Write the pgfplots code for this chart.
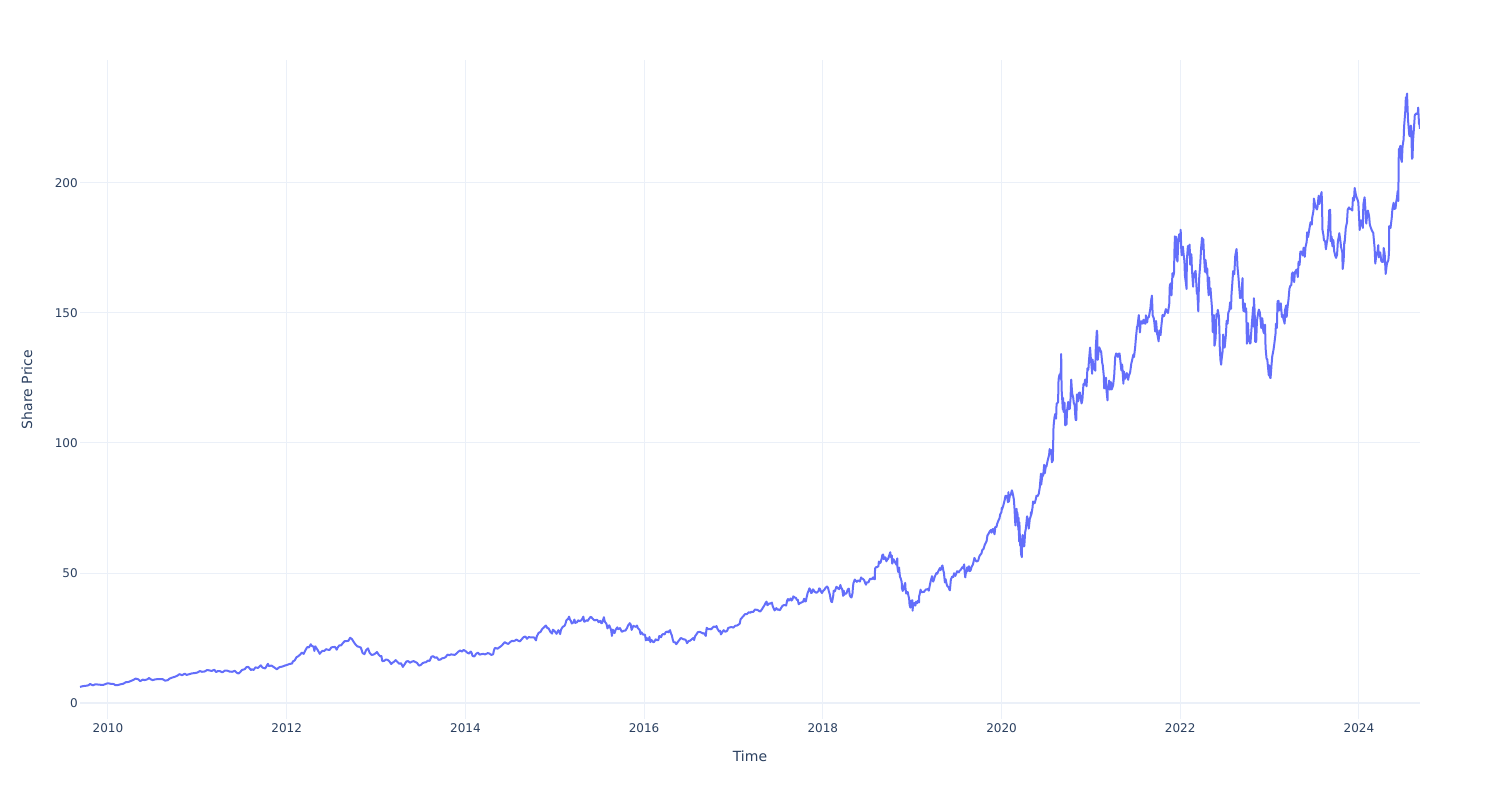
\documentclass[border=0pt]{standalone}
\usepackage{fontspec}
\setmainfont{DejaVu Sans}
\usepackage{pgfplots}
\pgfplotsset{compat=1.18}

\definecolor{lineblue}{HTML}{636EFA}
\definecolor{gridc}{HTML}{EBF0F8}
\definecolor{txt}{HTML}{2A3F5F}

\begin{document}
\begin{tikzpicture}
% page size: 1500x800 px at 0.75pt per px
\path[use as bounding box] (-60pt,-60.75pt) rectangle (1065pt,539.25pt);
\begin{axis}[
  at={(0,0)}, anchor=south west,
  scale only axis, width=1005pt, height=494.25pt,
  % x = years since 2000
  xmin=9.687, xmax=24.683,
  ymin=-6.15, ymax=247.3,
  axis line style={draw=none},
  major tick length=0pt,
  xtick={10,12,...,24},
  xticklabels={2010,2012,2014,2016,2018,2020,2022,2024},
  ytick={50,100,150,200},
  yticklabels={50,100,150,200},
  extra y ticks={0}, extra y tick labels={0},
  extra y tick style={grid=major, major grid style={draw=gridc, line width=1.5pt}},
  grid=major,
  major grid style={draw=gridc, line width=0.75pt},
  tick label style={font=\fontsize{9}{9}\selectfont, text=txt},
  xticklabel style={anchor=center, yshift=-6.75pt},
  yticklabel style={anchor=east, inner sep=0pt, xshift=-1.5pt},
  every axis x label/.style={at={(axis description cs:0.5,-0.0561)}, anchor=center,
    font=\fontsize{10.5}{10.5}\selectfont, text=txt},
  every axis y label/.style={at={(axis description cs:-0.0396,0.5)}, anchor=center,
    rotate=90, font=\fontsize{10.5}{10.5}\selectfont, text=txt},
  xlabel={Time},
  ylabel={Share Price},
]
\addplot[color=lineblue, line width=1.5pt, line join=round, no markers] coordinates {
(9.687,6.2) (9.72,6.5) (9.75,6.6) (9.78,6.8) (9.80,7.3) (9.83,6.8) (9.86,7.2) (9.89,7.1) (9.92,7.0) (9.95,7.0) (9.98,7.4)
(10.00,7.6) (10.03,7.4) (10.05,7.4) (10.07,7.2) (10.08,6.9) (10.11,6.9) (10.14,7.2) (10.17,7.4) (10.20,8.0) (10.23,8.1) (10.25,8.4) (10.28,8.8) (10.31,9.4) (10.34,9.1) (10.36,8.4) (10.39,9.0) (10.41,8.8) (10.44,9.1) (10.46,9.6) (10.48,9.1) (10.50,8.8) (10.53,9.1) (10.56,9.2) (10.58,9.2) (10.61,9.2) (10.64,8.6) (10.67,8.8) (10.69,9.4) (10.72,9.8) (10.75,10.1) (10.78,10.6) (10.80,11.1) (10.83,10.7) (10.86,11.3) (10.88,10.8) (10.91,11.1) (10.94,11.4) (10.97,11.5)
(11.00,11.7) (11.03,12.3) (11.05,12.0) (11.08,12.1) (11.11,12.7) (11.14,12.5) (11.16,12.3) (11.19,12.8) (11.21,11.9) (11.23,12.3) (11.25,12.3) (11.28,11.8) (11.31,12.5) (11.34,12.4) (11.36,12.1) (11.39,12.0) (11.42,12.4) (11.44,11.7) (11.46,11.3) (11.48,11.9) (11.50,12.7) (11.53,13.0) (11.55,13.8) (11.57,13.9) (11.60,12.7) (11.61,13.0) (11.63,12.7) (11.65,13.7) (11.68,13.5) (11.71,14.5) (11.73,13.6) (11.76,13.3) (11.79,15.1) (11.80,14.2) (11.83,14.4) (11.86,13.7) (11.89,13.0) (11.92,13.8) (11.95,14.0) (11.98,14.4)
(12.00,14.6) (12.03,15.0) (12.06,15.2) (12.07,16.0) (12.09,16.4) (12.11,17.6) (12.13,18.0) (12.15,18.6) (12.17,19.4) (12.19,18.9) (12.21,20.3) (12.23,21.5) (12.25,21.4) (12.27,22.6) (12.28,22.0) (12.30,21.7) (12.31,20.0) (12.32,21.8) (12.35,20.2) (12.37,18.9) (12.38,19.4) (12.40,20.1) (12.42,20.0) (12.44,20.7) (12.46,20.5) (12.48,20.4) (12.50,21.4) (12.52,21.5) (12.54,21.6) (12.56,20.5) (12.57,21.3) (12.59,22.2) (12.61,22.2) (12.63,23.1) (12.65,23.8) (12.67,23.8) (12.69,23.9) (12.71,25.1) (12.73,24.6) (12.75,23.5) (12.77,22.5) (12.79,21.8) (12.81,21.6) (12.83,21.3) (12.85,19.2) (12.87,18.8) (12.89,20.4) (12.91,21.0) (12.93,19.2) (12.95,18.5) (12.97,18.6) (12.99,19.0)
(13.01,19.6) (13.03,18.6) (13.05,17.9) (13.06,18.1) (13.07,16.1) (13.09,16.2) (13.11,16.7) (13.13,16.6) (13.15,16.0) (13.17,15.0) (13.18,15.4) (13.20,15.8) (13.22,16.5) (13.24,15.8) (13.26,15.1) (13.28,15.3) (13.30,13.9) (13.32,14.9) (13.34,16.0) (13.36,16.1) (13.38,15.5) (13.40,15.9) (13.42,16.1) (13.44,15.8) (13.46,15.4) (13.48,14.4) (13.50,14.6) (13.52,15.3) (13.54,15.6) (13.56,15.7) (13.58,16.3) (13.60,16.2) (13.62,17.8) (13.64,18.0) (13.66,17.4) (13.68,17.6) (13.70,16.6) (13.72,16.7) (13.74,17.2) (13.76,17.3) (13.78,17.7) (13.80,18.6) (13.82,18.4) (13.84,18.7) (13.86,18.6) (13.88,18.5) (13.90,19.0) (13.92,19.7) (13.94,20.2) (13.96,19.8) (13.98,20.4)
(14.00,20.0) (14.02,19.4) (14.04,19.0) (14.06,19.8) (14.07,19.3) (14.08,18.1) (14.10,17.9) (14.12,18.9) (14.14,19.4) (14.16,18.6) (14.18,18.8) (14.20,18.9) (14.22,18.7) (14.24,19.0) (14.25,19.2) (14.27,19.0) (14.29,18.5) (14.31,18.7) (14.32,20.3) (14.33,21.2) (14.36,20.9) (14.38,21.4) (14.40,21.9) (14.42,22.6) (14.44,23.4) (14.46,23.0) (14.48,22.7) (14.50,23.4) (14.52,23.9) (14.54,23.8) (14.56,24.1) (14.57,24.4) (14.59,24.0) (14.61,23.7) (14.63,24.5) (14.65,25.3) (14.67,25.6) (14.69,24.7) (14.71,25.4) (14.73,25.2) (14.75,25.2) (14.77,25.2) (14.79,24.1) (14.80,25.7) (14.82,27.0) (14.84,27.3) (14.86,28.5) (14.88,29.1) (14.90,29.8) (14.92,28.7) (14.93,28.8) (14.95,27.4) (14.97,26.7) (14.98,28.2)
(15.00,27.6) (15.02,26.6) (15.04,28.0) (15.05,27.5) (15.06,26.5) (15.07,28.1) (15.08,28.8) (15.09,29.3) (15.11,29.7) (15.12,30.5) (15.13,31.8) (15.15,32.4) (15.16,33.2) (15.17,32.1) (15.18,31.6) (15.19,30.6) (15.21,31.0) (15.22,32.1) (15.23,30.8) (15.25,31.1) (15.26,31.8) (15.28,31.5) (15.30,31.9) (15.32,33.2) (15.33,31.3) (15.34,31.4) (15.36,31.9) (15.37,31.6) (15.38,32.2) (15.40,33.1) (15.41,33.0) (15.42,32.6) (15.44,31.9) (15.45,31.8) (15.47,32.0) (15.48,31.8) (15.49,31.1) (15.51,31.6) (15.52,30.7) (15.53,30.8) (15.55,33.0) (15.56,31.3) (15.57,30.9) (15.58,30.3) (15.59,28.7) (15.61,29.9) (15.62,29.0) (15.63,28.2) (15.64,25.8) (15.65,28.2) (15.67,26.9) (15.68,28.1) (15.70,29.1) (15.71,28.4) (15.73,28.8) (15.74,28.1) (15.75,27.4) (15.77,27.7) (15.78,27.9) (15.79,27.8) (15.81,28.9) (15.82,29.8) (15.84,30.7) (15.85,30.2) (15.86,28.1) (15.88,29.7) (15.89,29.5) (15.91,29.3) (15.92,29.8) (15.93,28.8) (15.95,28.1) (15.96,26.5) (15.97,27.2) (15.99,26.3)
(16.01,26.3) (16.02,24.1) (16.03,25.0) (16.04,24.3) (16.05,24.2) (16.06,25.4) (16.07,23.4) (16.08,24.3) (16.10,23.5) (16.11,23.4) (16.13,24.5) (16.14,24.2) (16.16,24.2) (16.17,25.8) (16.19,25.3) (16.20,26.2) (16.21,26.5) (16.23,26.4) (16.24,27.2) (16.26,27.5) (16.27,27.2) (16.29,28.0) (16.30,26.8) (16.31,26.1) (16.32,24.5) (16.33,23.4) (16.35,23.3) (16.36,22.6) (16.38,23.6) (16.40,24.5) (16.41,25.0) (16.43,24.7) (16.44,24.5) (16.46,24.4) (16.47,24.0) (16.48,23.0) (16.50,23.9) (16.51,23.9) (16.53,24.4) (16.55,25.0) (16.56,24.2) (16.57,25.7) (16.58,26.1) (16.60,27.2) (16.62,27.4) (16.64,27.1) (16.66,26.7) (16.67,26.9) (16.69,25.8) (16.70,28.9) (16.72,28.4) (16.74,28.5) (16.75,28.3) (16.77,29.1) (16.78,29.4) (16.80,29.2) (16.81,29.6) (16.82,28.6) (16.84,27.5) (16.85,27.8) (16.86,26.4) (16.88,27.5) (16.89,28.0) (16.91,27.4) (16.93,27.8) (16.94,28.8) (16.96,29.1) (16.98,29.2)
(17.00,29.0) (17.02,29.7) (17.04,29.8) (17.05,30.0) (17.07,30.5) (17.08,32.2) (17.10,33.0) (17.12,33.8) (17.13,34.2) (17.15,34.2) (17.17,34.9) (17.19,34.7) (17.20,35.1) (17.22,35.0) (17.24,35.9) (17.25,35.9) (17.27,35.8) (17.29,35.3) (17.30,35.2) (17.32,36.1) (17.33,36.7) (17.34,37.2) (17.36,38.5) (17.37,39.0) (17.38,37.6) (17.40,38.3) (17.41,38.2) (17.43,38.6) (17.44,37.2) (17.45,36.4) (17.46,35.6) (17.48,36.5) (17.49,35.9) (17.50,36.0) (17.52,35.7) (17.53,36.4) (17.55,37.4) (17.56,37.6) (17.58,37.6) (17.59,37.5) (17.60,39.3) (17.61,40.0) (17.62,39.4) (17.64,40.2) (17.65,39.4) (17.66,39.8) (17.67,41.0) (17.69,40.5) (17.70,40.4) (17.71,39.6) (17.72,39.7) (17.73,38.0) (17.74,38.3) (17.75,38.5) (17.77,38.8) (17.78,39.0) (17.79,40.1) (17.80,39.1) (17.81,39.1) (17.82,40.8) (17.83,42.3) (17.84,43.1) (17.85,44.1) (17.86,43.5) (17.87,42.3) (17.88,42.5) (17.89,43.7) (17.90,43.3) (17.91,42.8) (17.92,42.5) (17.93,42.4) (17.95,43.0) (17.96,44.1) (17.97,43.8) (17.98,42.8) (17.99,42.3)
(18.003,43.1) (18.019,43.6) (18.030,44.3) (18.047,44.8) (18.058,44.3) (18.068,42.9) (18.079,41.7) (18.086,40.1) (18.094,39.1) (18.103,38.8) (18.116,41.1) (18.122,43.2) (18.135,43.0) (18.152,44.7) (18.155,44.6) (18.169,44.1) (18.183,43.8) (18.197,45.4) (18.202,44.6) (18.216,43.8) (18.224,42.2) (18.227,41.2) (18.235,43.2) (18.241,41.6) (18.244,41.9) (18.255,42.1) (18.264,42.1) (18.280,43.7) (18.291,44.0) (18.302,41.4) (18.313,40.7) (18.321,40.6) (18.333,42.3) (18.336,44.1) (18.342,46.0) (18.358,47.5) (18.369,47.0) (18.380,46.6) (18.394,47.1) (18.410,47.0) (18.415,46.7) (18.428,48.3) (18.436,47.9) (18.450,47.7) (18.463,47.2) (18.474,46.2) (18.483,45.5) (18.491,46.4) (18.511,46.4) (18.525,47.6) (18.533,47.8) (18.547,47.6) (18.563,48.3) (18.571,47.7) (18.582,47.6) (18.583,50.4) (18.586,51.8) (18.597,52.3) (18.605,52.2) (18.622,52.6) (18.627,54.4) (18.638,53.8) (18.646,54.0) (18.660,55.7) (18.666,56.9) (18.675,57.1) (18.683,55.3) (18.694,56.0) (18.702,56.0) (18.711,54.5) (18.719,55.0) (18.733,55.6) (18.738,56.3) (18.755,58.0) (18.761,56.1) (18.772,56.7) (18.775,54.1) (18.777,53.6) (18.791,55.3) (18.799,54.8) (18.813,53.8) (18.827,53.1) (18.830,54.7) (18.833,55.6) (18.836,51.9) (18.844,50.4) (18.853,52.1) (18.863,48.6) (18.872,47.9) (18.883,46.5) (18.885,44.2) (18.894,43.1) (18.902,43.7) (18.910,44.9) (18.922,46.2) (18.925,44.2) (18.933,42.1) (18.941,42.4) (18.950,42.7) (18.960,41.0) (18.966,40.2) (18.971,37.7) (18.980,36.7) (18.985,39.3) (18.999,39.4)
(19.003,39.5) (19.005,35.5) (19.008,37.1) (19.019,37.7) (19.025,38.5) (19.036,37.5) (19.044,39.0) (19.058,38.4) (19.066,39.4) (19.077,38.7) (19.079,41.3) (19.083,41.6) (19.094,43.6) (19.103,42.6) (19.119,42.7) (19.133,42.7) (19.141,43.2) (19.155,43.7) (19.167,43.7) (19.178,43.9) (19.186,43.2) (19.197,45.2) (19.205,46.5) (19.222,48.8) (19.224,47.8) (19.235,46.7) (19.244,47.5) (19.255,48.8) (19.272,50.0) (19.280,49.7) (19.294,50.8) (19.310,51.9) (19.318,51.1) (19.333,52.6) (19.339,52.9) (19.350,50.7) (19.355,50.2) (19.366,46.4) (19.372,47.7) (19.377,47.3) (19.385,45.8) (19.394,44.9) (19.407,44.6) (19.415,43.8) (19.422,43.3) (19.428,45.6) (19.433,47.5) (19.447,48.6) (19.461,48.5) (19.469,49.9) (19.483,48.9) (19.491,49.5) (19.503,50.7) (19.522,50.3) (19.530,50.8) (19.547,51.4) (19.560,52.2) (19.568,51.9) (19.582,53.3) (19.586,51.0) (19.594,48.3) (19.600,49.8) (19.605,50.2) (19.616,52.2) (19.619,50.7) (19.635,52.6) (19.644,50.7) (19.655,51.1) (19.663,52.2) (19.680,53.3) (19.697,55.8) (19.708,55.0) (19.719,54.4) (19.738,54.7) (19.750,56.2) (19.758,56.8) (19.775,57.5) (19.786,59.0) (19.797,59.1) (19.813,60.9) (19.833,62.2) (19.842,64.4) (19.853,65.0) (19.869,66.1) (19.883,66.6) (19.888,65.5) (19.905,67.0) (19.922,64.9) (19.930,67.7) (19.944,67.7) (19.950,68.8) (19.963,70.0) (19.977,71.0) (19.985,72.5) (19.999,73.4)
(20.003,75.1) (20.005,74.4) (20.019,75.8) (20.036,78.2) (20.044,79.7) (20.063,79.6) (20.071,77.2) (20.077,81.1) (20.082,77.4) (20.093,79.7) (20.102,80.0) (20.116,81.8) (20.121,81.2) (20.130,79.8) (20.138,78.3) (20.146,74.5) (20.149,72.0) (20.155,68.4) (20.157,68.3) (20.169,74.7) (20.172,72.3) (20.178,73.2) (20.189,66.5) (20.191,71.3) (20.197,62.1) (20.200,69.5) (20.208,60.6) (20.210,63.2) (20.213,61.7) (20.219,57.3) (20.227,56.1) (20.230,61.7) (20.235,64.6) (20.238,61.9) (20.249,63.6) (20.250,60.2) (20.255,60.4) (20.264,65.6) (20.272,67.0) (20.286,71.8) (20.294,70.7) (20.305,67.1) (20.316,70.7) (20.327,71.9) (20.330,73.4) (20.333,72.3) (20.347,75.2) (20.353,77.5) (20.366,76.9) (20.372,76.9) (20.383,78.3) (20.391,79.7) (20.405,79.6) (20.417,80.5) (20.428,82.9) (20.441,88.2) (20.444,84.0) (20.458,88.0) (20.466,87.4) (20.477,91.6) (20.485,88.4) (20.496,91.2) (20.503,91.0) (20.516,93.2) (20.533,95.5) (20.538,97.7) (20.544,96.3) (20.557,97.3) (20.563,92.6) (20.574,93.3) (20.582,106.3) (20.592,109.7) (20.600,111.1) (20.611,109.4) (20.616,115.0) (20.630,115.6) (20.633,115.7) (20.638,124.4) (20.646,125.9) (20.652,126.5) (20.657,124.8) (20.666,129.0) (20.667,134.2) (20.669,131.4) (20.672,120.9) (20.686,112.8) (20.689,117.3) (20.694,112.0) (20.705,115.5) (20.713,106.8) (20.722,110.1) (20.727,107.1) (20.733,112.3) (20.746,115.8) (20.753,113.0) (20.764,113.2) (20.772,117.0) (20.780,124.4) (20.786,121.2) (20.791,119.0) (20.802,117.5) (20.810,115.0) (20.818,115.0) (20.824,111.2) (20.829,108.9) (20.836,108.8) (20.844,118.7) (20.855,116.3) (20.858,116.0) (20.866,119.3) (20.877,119.4) (20.885,117.3) (20.896,115.2) (20.905,116.6) (20.917,122.7) (20.925,122.3) (20.936,124.4) (20.941,123.2) (20.952,121.8) (20.961,128.7) (20.972,128.2) (20.977,131.0) (20.991,136.7) (20.999,132.7)
(21.008,129.4) (21.014,126.6) (21.019,132.1) (21.030,128.8) (21.036,128.9) (21.049,127.8) (21.055,136.9) (21.066,142.9) (21.068,143.2) (21.071,142.1) (21.074,137.1) (21.077,132.0) (21.086,135.0) (21.094,136.8) (21.108,135.4) (21.114,135.4) (21.127,130.8) (21.133,129.9) (21.144,126.0) (21.149,121.0) (21.152,121.3) (21.169,125.1) (21.175,120.1) (21.186,116.4) (21.189,121.1) (21.197,121.0) (21.205,124.0) (21.213,120.5) (21.224,123.4) (21.233,120.6) (21.249,122.2) (21.261,126.0) (21.272,133.0) (21.283,134.4) (21.291,134.2) (21.302,133.1) (21.310,134.3) (21.321,134.4) (21.330,131.5) (21.341,127.9) (21.350,130.2) (21.364,122.8) (21.369,127.5) (21.383,124.7) (21.388,125.4) (21.402,126.9) (21.417,124.3) (21.425,125.9) (21.439,127.1) (21.452,130.5) (21.461,131.8) (21.475,134.0) (21.483,133.1) (21.496,137.0) (21.503,140.0) (21.516,144.6) (21.522,145.1) (21.536,149.2) (21.549,142.5) (21.558,146.8) (21.571,146.8) (21.580,145.9) (21.589,147.4) (21.597,146.1) (21.611,145.9) (21.616,149.1) (21.630,146.4) (21.636,148.2) (21.649,148.4) (21.666,151.8) (21.672,154.3) (21.683,156.7) (21.692,149.0) (21.703,148.1) (21.711,146.1) (21.719,142.9) (21.730,146.9) (21.741,141.9) (21.746,141.5) (21.758,139.1) (21.766,143.3) (21.780,141.5) (21.788,144.8) (21.802,149.3) (21.808,148.7) (21.821,148.9) (21.827,149.8) (21.839,151.5) (21.853,150.4) (21.863,150.0) (21.877,153.5) (21.883,160.6) (21.894,161.4) (21.902,156.8) (21.913,165.3) (21.919,163.8) (21.930,165.3) (21.936,175.1) (21.941,179.5) (21.950,175.7) (21.955,179.3) (21.961,171.1) (21.969,169.8) (21.977,176.3) (21.988,180.3) (21.999,177.6)
(22.005,182.0) (22.011,174.9) (22.016,172.2) (22.030,175.5) (22.036,173.1) (22.047,169.8) (22.052,164.5) (22.063,161.6) (22.071,159.2) (22.074,170.3) (22.086,175.8) (22.092,172.4) (22.105,176.3) (22.111,168.6) (22.125,172.6) (22.130,167.3) (22.144,160.1) (22.147,162.7) (22.157,165.1) (22.172,166.2) (22.183,159.3) (22.186,157.4) (22.191,158.5) (22.202,150.6) (22.208,159.6) (22.213,164.0) (22.224,168.8) (22.233,174.7) (22.244,179.0) (22.249,174.6) (22.258,178.4) (22.266,172.1) (22.277,165.8) (22.283,170.4) (22.297,165.1) (22.302,167.2) (22.308,161.8) (22.318,156.8) (22.324,163.6) (22.327,157.7) (22.339,159.5) (22.344,156.8) (22.355,152.1) (22.361,146.5) (22.364,142.6) (22.366,147.1) (22.377,149.2) (22.383,137.4) (22.385,137.6) (22.396,140.4) (22.405,149.6) (22.415,148.8) (22.420,151.2) (22.433,148.7) (22.439,142.6) (22.442,137.1) (22.450,131.9) (22.458,130.1) (22.461,131.6) (22.475,135.4) (22.480,141.7) (22.491,137.4) (22.497,136.7) (22.511,141.6) (22.519,147.0) (22.530,145.9) (22.538,150.2) (22.549,151.0) (22.558,154.1) (22.568,151.6) (22.574,157.4) (22.583,161.5) (22.592,166.1) (22.605,164.9) (22.616,172.1) (22.630,174.6) (22.636,171.5) (22.641,167.6) (22.652,163.6) (22.666,157.2) (22.669,155.8) (22.683,156.0) (22.697,163.4) (22.700,153.8) (22.708,150.7) (22.722,153.7) (22.727,150.4) (22.738,151.8) (22.744,142.5) (22.746,138.2) (22.758,146.1) (22.766,140.1) (22.780,138.3) (22.786,138.4) (22.797,143.8) (22.805,147.3) (22.816,152.3) (22.821,144.8) (22.824,155.7) (22.833,150.7) (22.839,138.9) (22.850,138.9) (22.858,146.9) (22.872,150.0) (22.880,151.3) (22.891,150.2) (22.907,144.2) (22.913,148.0) (22.919,147.8) (22.930,142.9) (22.938,142.2) (22.949,145.5) (22.955,136.5) (22.966,132.4) (22.974,132.2) (22.991,126.0) (22.996,129.9)
(23.005,125.1) (23.011,125.0) (23.022,130.2) (23.030,133.4) (23.044,135.9) (23.052,137.9) (23.066,141.9) (23.071,145.9) (23.082,144.3) (23.086,150.8) (23.089,154.5) (23.100,154.7) (23.105,150.9) (23.119,153.2) (23.125,153.7) (23.138,148.5) (23.144,149.4) (23.157,147.4) (23.169,145.9) (23.172,151.0) (23.186,152.9) (23.191,148.5) (23.202,152.6) (23.211,155.0) (23.222,159.3) (23.230,160.3) (23.244,160.8) (23.249,164.9) (23.258,165.6) (23.275,161.9) (23.283,165.6) (23.297,166.5) (23.302,166.7) (23.316,163.8) (23.324,169.7) (23.336,168.5) (23.344,173.6) (23.358,173.6) (23.372,172.1) (23.380,175.1) (23.394,171.6) (23.402,175.4) (23.415,177.3) (23.420,181.0) (23.431,179.2) (23.439,181.0) (23.450,183.3) (23.458,184.9) (23.472,184.0) (23.477,186.7) (23.491,189.3) (23.496,194.0) (23.511,191.3) (23.516,190.7) (23.530,189.8) (23.536,190.7) (23.549,195.1) (23.555,191.9) (23.568,194.5) (23.582,196.5) (23.586,192.6) (23.592,182.0) (23.603,179.8) (23.608,178.0) (23.622,177.5) (23.630,174.5) (23.641,177.2) (23.649,178.6) (23.660,184.1) (23.666,187.9) (23.667,189.5) (23.678,189.7) (23.681,182.9) (23.683,177.6) (23.694,179.4) (23.703,175.7) (23.714,178.0) (23.722,173.9) (23.735,172.0) (23.744,171.2) (23.755,172.4) (23.764,177.5) (23.777,179.8) (23.780,180.7) (23.794,177.2) (23.799,175.5) (23.813,173.4) (23.818,166.9) (23.829,170.3) (23.836,177.6) (23.839,176.7) (23.853,182.9) (23.866,184.8) (23.874,189.7) (23.888,190.6) (23.905,189.8) (23.913,190.0) (23.925,189.4) (23.933,194.3) (23.944,193.2) (23.952,198.1) (23.963,195.9) (23.971,194.7) (23.988,193.2) (23.993,192.5)
(24.003,185.6) (24.008,181.9) (24.019,185.6) (24.027,185.6) (24.044,182.7) (24.049,191.6) (24.063,194.5) (24.068,192.4) (24.082,184.4) (24.086,185.9) (24.100,189.4) (24.114,187.2) (24.122,183.9) (24.138,182.3) (24.152,181.2) (24.160,180.8) (24.175,175.1) (24.183,169.0) (24.197,173.2) (24.205,172.6) (24.216,176.1) (24.222,171.4) (24.224,172.3) (24.238,173.3) (24.250,170.0) (24.261,169.6) (24.272,169.7) (24.277,175.0) (24.288,172.7) (24.299,165.0) (24.313,169.0) (24.329,170.3) (24.336,173.0) (24.339,183.4) (24.353,182.7) (24.366,186.3) (24.374,189.8) (24.388,192.4) (24.396,190.0) (24.410,190.3) (24.415,192.3) (24.426,194.4) (24.433,196.9) (24.441,193.1) (24.444,207.2) (24.447,213.1) (24.452,212.5) (24.463,214.3) (24.469,209.7) (24.480,208.1) (24.488,214.1) (24.500,216.8) (24.505,221.6) (24.519,227.8) (24.525,233.0) (24.527,227.6) (24.538,234.4) (24.544,228.9) (24.549,224.3) (24.563,218.5) (24.568,218.0) (24.582,222.1) (24.586,219.9) (24.594,209.3) (24.600,209.8) (24.605,216.2) (24.616,221.3) (24.625,226.1) (24.636,226.5) (24.644,226.8) (24.658,226.5) (24.663,229.0) (24.672,222.8) (24.678,222.4) (24.683,220.8)
};
\end{axis}
\end{tikzpicture}
\end{document}
